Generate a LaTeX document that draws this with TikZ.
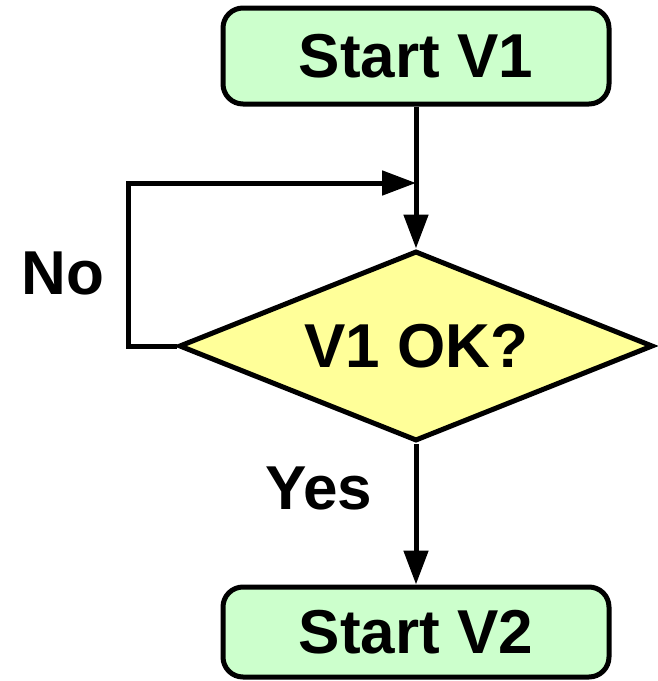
\documentclass[tikz,border=0pt]{standalone}
\usepackage{fontspec}
\setmainfont{Liberation Sans}
\usetikzlibrary{shapes.geometric,arrows.meta}
\definecolor{boxgreen}{HTML}{CCFFCC}
\definecolor{diayellow}{HTML}{FFFF99}
\begin{document}
\begin{tikzpicture}[x=1pt,y=-1pt,
  every node/.style={font=\fontsize{62}{70}\selectfont\bfseries},
  startbox/.style={draw,line width=5pt,fill=boxgreen,rounded corners=20pt,
    minimum width=386pt,inner sep=0pt},
  decision/.style={draw,line width=5pt,fill=diayellow,diamond,shape aspect=2.5,
    minimum width=474pt,minimum height=190pt,inner sep=0pt},
  flow/.style={line width=5pt,-{Triangle[length=34pt,width=24pt]}},
  lbl/.style={inner sep=0pt}]
\useasboundingbox (0,0) rectangle (657,681);
\node[startbox,minimum height=96pt] (s1) at (416,56) {Start V1};
\node[decision] (d) at (416,346) {V1 OK?};
\node[startbox,minimum height=90pt] (s2) at (416,632) {Start V2};
\coordinate (lc) at (128,183);
\coordinate (j) at (416,183);
\draw[flow] (s1.south) -- (d.north);
\draw[flow] (d.west) -| (lc) -- (j);
\draw[flow] (d.south) -- (s2.north);
\node[lbl] (no) at (63,273) {No};
\node[lbl] (yes) at (319,488) {Yes};
\end{tikzpicture}
\end{document}
